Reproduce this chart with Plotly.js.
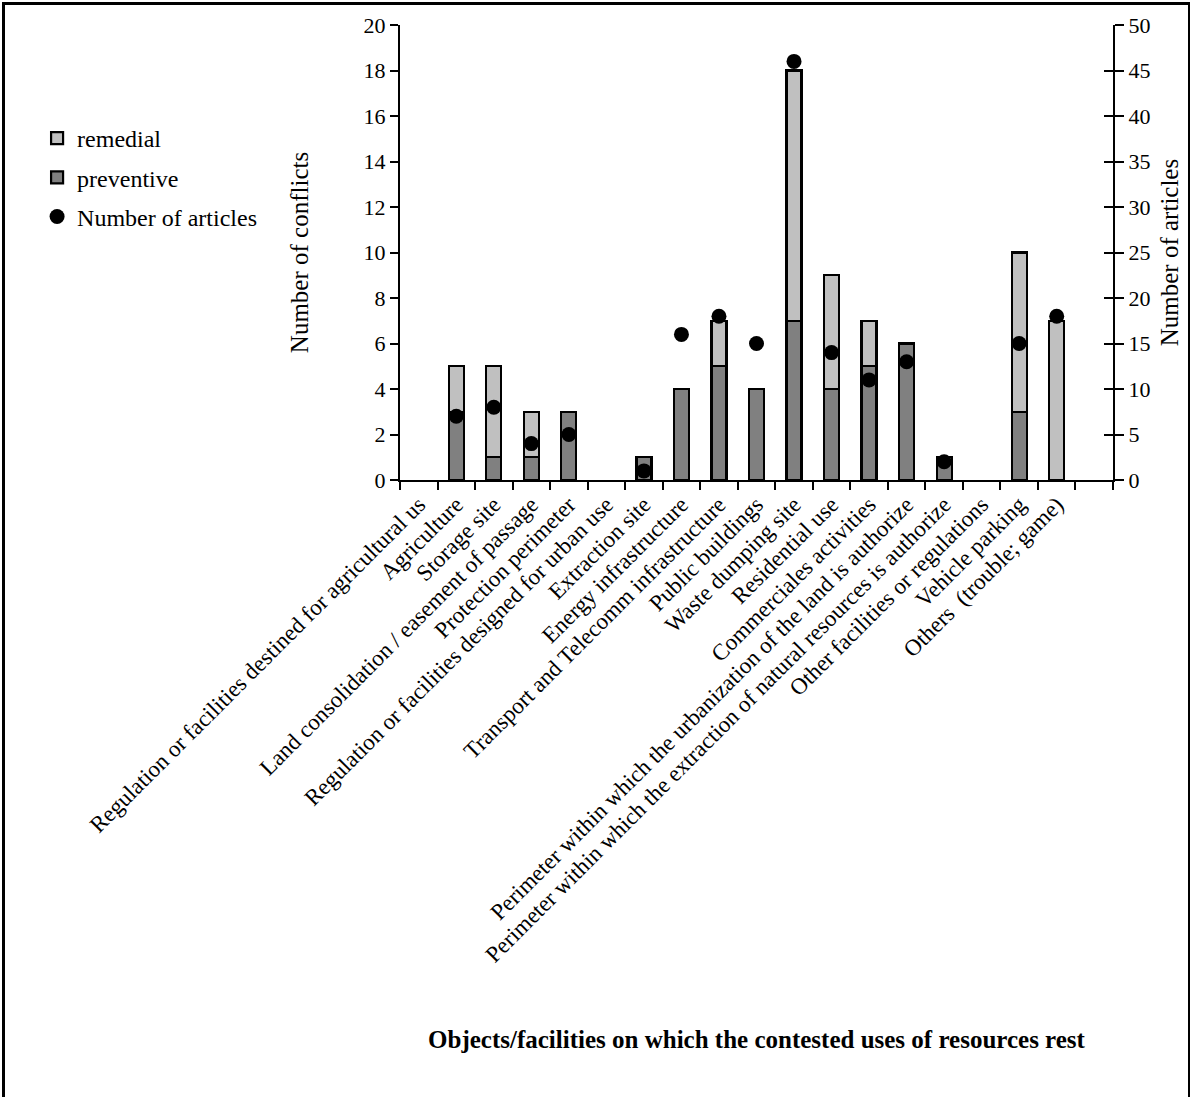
<!DOCTYPE html>
<html>
<head>
<meta charset="utf-8">
<script src="https://cdn.plot.ly/plotly-3.0.1.min.js"></script>
<style>
  html, body { margin:0; padding:0; background:#fff; }
  #wrap { position:relative; width:1190px; height:1097px; }
  #chart { position:absolute; left:0; top:0; width:1190px; height:1097px; }
  #frame { position:absolute; left:2px; top:2px; width:1183px; height:1092px;
           border-left:3px solid #000; border-top:3px solid #000; border-right:2px solid #000;
           border-bottom:1px solid #888; pointer-events:none; }
</style>
</head>
<body>
<div id="wrap">
  <div id="chart"></div>
  <div id="frame"></div>
</div>
<script>
const categories = [
  "Regulation or facilities destined for agricultural us",
  "Agriculture",
  "Storage site",
  "Land consolidation / easement of passage",
  "Protection perimeter",
  "Regulation or facilities designed for urban use",
  "Extraction site",
  "Energy infrastructure",
  "Transport and Telecomm infrastructure",
  "Public buildings",
  "Waste dumping site",
  "Residential use",
  "Commerciales activities",
  "Perimeter within which the urbanization of the land is authorize",
  "Perimeter within which the extraction of natural resources is authorize",
  "Other facilities or regulations",
  "Vehicle parking",
  "Others  (trouble; game)",
  " "
];
const preventive = [null, 3, 1, 1, 3, null, 1, 4, 5, 4, 7, 4, 5, 6, 1, null, 3, null, null];
const remedial   = [null, 2, 4, 2, null, null, null, null, 2, null, 11, 5, 2, null, null, null, 7, 7, null];
const articles   = [null, 7, 8, 4, 5, null, 1, 16, 18, 15, 46, 14, 11, 13, 2, null, 15, 18, null];

const FONT = "'Liberation Serif', 'Times New Roman', Times, serif";

const traces = [
  {
    type: 'bar', name: 'preventive', x: categories, y: preventive,
    width: 0.4, legendrank: 2, legendgroup: 'b',
    marker: { color: '#808080', line: { color: '#000', width: 2.2 } },
    hoverinfo: 'skip'
  },
  {
    type: 'bar', name: 'remedial', x: categories, y: remedial,
    width: 0.4, legendrank: 1, legendgroup: 'a',
    marker: { color: '#c0c0c0', line: { color: '#000', width: 2.2 } },
    hoverinfo: 'skip'
  },
  {
    type: 'scatter', mode: 'markers', name: 'Number of articles',
    x: categories, y: articles, yaxis: 'y2', legendrank: 3, legendgroup: 'c',
    marker: { color: '#000', size: 15, symbol: 'circle' },
    hoverinfo: 'skip'
  },
  {
    type: 'scatter', mode: 'markers', x: [categories[0]], y: [null], yaxis: 'y3',
    showlegend: false, hoverinfo: 'skip', marker: { size: 0 }
  }
];

const layout = {
  width: 1190, height: 1097,
  margin: { l: 400, r: 77, t: 25, b: 617, pad: 0 },
  paper_bgcolor: '#fff', plot_bgcolor: '#fff',
  font: { family: FONT, size: 22, color: '#000' },
  barmode: 'stack',
  showlegend: true,
  legend: {
    x: -0.509, xanchor: 'left', y: 0.80, yanchor: 'top',
    traceorder: 'grouped',
    font: { family: FONT, size: 24, color: '#000' },
    bgcolor: 'rgba(0,0,0,0)', tracegroupgap: 5
  },
  xaxis: {
    type: 'category', categoryorder: 'array', categoryarray: categories,
    range: [-0.5, 18.5],
    tickangle: -45, ticks: 'outside', tickson: 'boundaries',
    ticklen: 8, tickwidth: 2, tickcolor: '#000',
    showline: true, linewidth: 2, linecolor: '#000',
    showgrid: false, zeroline: false, automargin: false,
    tickfont: { family: FONT, size: 23, color: '#000' },
    title: {
      text: '<b>Objects/facilities on which the contested uses of resources rest</b>',
      font: { family: FONT, size: 25, color: '#000' },
      standoff: 64
    }
  },
  yaxis: {
    range: [0, 20], dtick: 2, tick0: 0,
    ticks: 'outside', ticklen: 8, tickwidth: 2, tickcolor: '#000',
    showline: true, linewidth: 2, linecolor: '#000',
    showgrid: false, zeroline: false, automargin: false,
    tickfont: { family: FONT, size: 22, color: '#000' },
    title: { text: 'Number of conflicts', font: { family: FONT, size: 25, color: '#000' }, standoff: 48 }
  },
  yaxis2: {
    overlaying: 'y', side: 'right', anchor: 'x',
    range: [0, 50], dtick: 5, tick0: 0,
    ticks: 'outside', ticklen: 9, tickwidth: 2, tickcolor: '#000',
    showline: true, linewidth: 2, linecolor: '#000',
    showgrid: false, zeroline: false, automargin: false,
    tickfont: { family: FONT, size: 22, color: '#000' },
    title: { text: 'Number of articles', font: { family: FONT, size: 25, color: '#000' }, standoff: 11 }
  },
  yaxis3: {
    overlaying: 'y', side: 'right', anchor: 'x',
    range: [0, 50], dtick: 5, tick0: 0,
    ticks: 'inside', ticklen: 9, tickwidth: 2, tickcolor: '#000',
    showline: false, showticklabels: false,
    showgrid: false, zeroline: false
  }
};

Plotly.newPlot('chart', traces, layout, { staticPlot: true, displayModeBar: false });
</script>
</body>
</html>
